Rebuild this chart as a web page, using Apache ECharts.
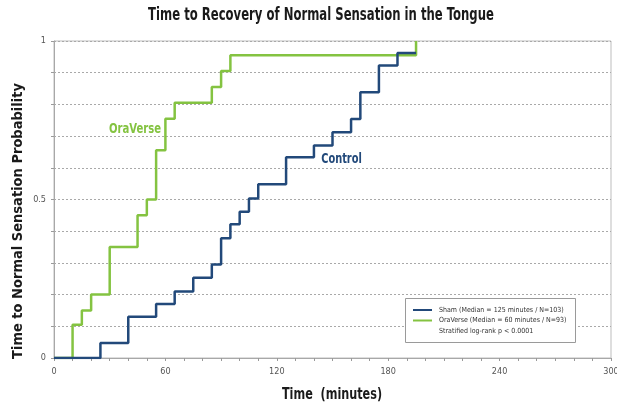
<!DOCTYPE html>
<html>
<head>
<meta charset="utf-8">
<script src="https://cdn.jsdelivr.net/npm/echarts@6/dist/echarts.min.js"></script>
<style>html,body{margin:0;padding:0;background:#fff;}#c{width:617px;height:406px;}</style>
</head>
<body>
<div id="c"></div>
<script>
// ---- data ----
const oraTimes  = [0, 10, 15, 20, 30, 45, 50, 55, 60, 65, 85, 90, 95, 195];
const oraValues = [0, 0.105, 0.15, 0.2, 0.35, 0.45, 0.5, 0.655, 0.755, 0.805, 0.855, 0.905, 0.955, 1];
const ctlTimes  = [0, 25, 40, 55, 65, 75, 85, 90, 95, 100, 105, 110, 125, 140, 150, 160, 165, 175, 185, 195];
const ctlValues = [0, 0.047, 0.13, 0.17, 0.21, 0.253, 0.295, 0.378, 0.422, 0.461, 0.503, 0.548, 0.633, 0.67, 0.712, 0.754, 0.838, 0.923, 0.962, 0.962];
const xTickLabels = [0, 60, 120, 180, 240, 300];
const yTickLabels = [0, 0.5, 1];
const titleText = 'Time to Recovery of Normal Sensation in the Tongue';
const xAxisTitle = 'Time  (minutes)';
const yAxisTitle = 'Time to Normal Sensation Probability';
const legendLines = ['Sham (Median = 125 minutes / N=103)', 'OraVerse (Median = 60 minutes / N=93)', 'Stratified log-rank p < 0.0001'];

const GREEN = '#84c341';
const BLUE = '#22497a';
const FONT = '"DejaVu Sans Condensed", "Liberation Sans Narrow", sans-serif';

const zip = (a, b) => a.map((t, i) => [t, b[i]]);

const chart = echarts.init(document.getElementById('c'), null, {renderer: 'canvas'});
chart.setOption({
  animation: false,
  backgroundColor: '#fff',
  grid: {left: 54, right: 6, top: 41, bottom: 48, show: true, borderColor: '#bdbdbd', borderWidth: 1,
         containLabel: false, outerBoundsMode: 'none'},
  xAxis: {
    type: 'value', min: 0, max: 300, interval: 10,
    axisLine: {show: true, lineStyle: {color: '#a8a8a8'}},
    axisTick: {show: true, length: 3, lineStyle: {color: '#9a9a9a'}},
    axisLabel: {
      color: '#555', fontSize: 9, margin: 9, fontFamily: FONT,
      formatter: v => xTickLabels.includes(v) ? String(v) : ''
    },
    splitLine: {show: false}
  },
  yAxis: {
    type: 'value', min: 0, max: 1, interval: 0.1,
    axisLine: {show: true, lineStyle: {color: '#a8a8a8'}},
    axisTick: {show: true, length: 3, lineStyle: {color: '#9a9a9a'}},
    axisLabel: {
      color: '#555', fontSize: 9, margin: 8, fontFamily: FONT,
      formatter: v => {
        const r = Math.round(v * 10) / 10;
        return yTickLabels.includes(r) ? String(r) : '';
      }
    },
    splitLine: {show: true, lineStyle: {color: '#a9a9a9', type: [2, 2], width: 1}}
  },
  series: [
    {
      name: 'OraVerse', type: 'line', step: 'end', showSymbol: false, z: 2,
      data: zip(oraTimes, oraValues),
      lineStyle: {color: GREEN, width: 2.5}
    },
    {
      name: 'Control', type: 'line', step: 'end', showSymbol: false, z: 3,
      data: zip(ctlTimes, ctlValues),
      lineStyle: {color: BLUE, width: 2.5}
    }
  ],
  graphic: [
    {type: 'text', x: 321, y: 15, scaleX: 0.72, style: {
      text: titleText, fontFamily: FONT, fontWeight: 'bold', fontSize: 18, fill: '#1a1a1a',
      align: 'center', verticalAlign: 'middle'}},
    {type: 'text', x: 332, y: 395, scaleX: 0.78, style: {
      text: xAxisTitle, fontFamily: FONT, fontWeight: 'bold', fontSize: 16, fill: '#1a1a1a',
      align: 'center', verticalAlign: 'middle'}},
    {type: 'text', x: 18, y: 221, rotation: Math.PI / 2, style: {
      text: yAxisTitle, fontFamily: FONT, fontWeight: 'bold', fontSize: 14.5, fill: '#1a1a1a',
      align: 'center', verticalAlign: 'middle'}},
    {type: 'text', x: 135, y: 129, scaleX: 0.8, style: {text: 'OraVerse', fontFamily: FONT, fontWeight: 'bold', fontSize: 14, fill: GREEN, align: 'center', verticalAlign: 'middle'}},
    {type: 'text', x: 341.5, y: 159, scaleX: 0.78, style: {text: 'Control', fontFamily: FONT, fontWeight: 'bold', fontSize: 14, fill: BLUE, align: 'center', verticalAlign: 'middle'}},
    {type: 'rect', shape: {x: 405.5, y: 298.5, width: 170, height: 44}, style: {fill: '#fff', stroke: '#9a9a9a', lineWidth: 1}, z: 10},
    {type: 'line', shape: {x1: 413, y1: 310, x2: 432, y2: 310}, style: {stroke: BLUE, lineWidth: 2}, z: 11},
    {type: 'line', shape: {x1: 413, y1: 320.5, x2: 432, y2: 320.5}, style: {stroke: GREEN, lineWidth: 2}, z: 11},
    {type: 'text', x: 439, y: 310, style: {text: legendLines[0], fontFamily: FONT, fontSize: 7, fill: '#333', verticalAlign: 'middle'}, z: 11},
    {type: 'text', x: 439, y: 320.5, style: {text: legendLines[1], fontFamily: FONT, fontSize: 7, fill: '#333', verticalAlign: 'middle'}, z: 11},
    {type: 'text', x: 439, y: 331, style: {text: legendLines[2], fontFamily: FONT, fontSize: 7, fill: '#333', verticalAlign: 'middle'}, z: 11}
  ]
});
</script>
</body>
</html>
